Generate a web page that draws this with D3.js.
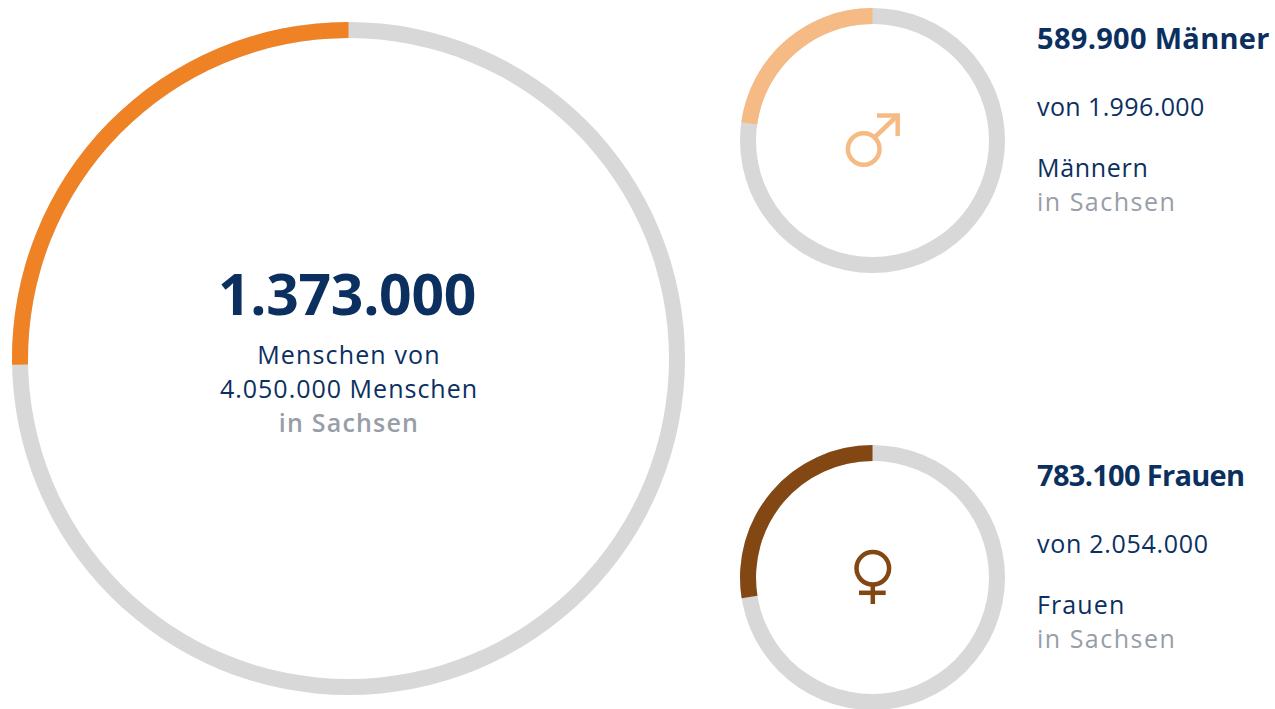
<!DOCTYPE html>
<html>
<head>
<meta charset="utf-8">
<script src="https://cdn.jsdelivr.net/npm/d3@7"></script>
<style>
html, body { margin: 0; padding: 0; background: #fff; }
svg { display: block; }
text { font-family: "Open Sans", "Noto Sans", sans-serif; }
</style>
</head>
<body>
<script>
// ---------- DATA ----------
var groups = ['gesamt', 'maenner', 'frauen']
// filled share of each ring
var shares = [0.253, 0.228, 0.275]
var colors = ['#ef8225', '#f6ba84', '#834713']
var centerX = [348.5, 872.5, 872.5]
var centerY = [358.5, 140.5, 577.5]
var radii = [336.5, 132.5, 132.5]
var widths = [16, 16, 16]

var width = 1275
var height = 709
var navy = '#0b3060'
var grey = '#979ea8'
var track = '#d8d8d8'

var svg = d3.select('body').append('svg')
	.attr('width', width)
	.attr('height', height)

var angle = d3.scaleLinear().domain([0, 1]).range([0, -2 * Math.PI])

// ---------- RINGS ----------
var rings = svg.selectAll('g.ring')
	.data(groups)
	.enter()
	.append('g')
	.attr('class', 'ring')
	.attr('transform', (d, i) => 'translate(' + centerX[i] + ',' + centerY[i] + ')')

rings.append('path')
	.attr('fill', track)
	.attr('d', (d, i) => d3.arc()({
		innerRadius: radii[i] - widths[i],
		outerRadius: radii[i],
		startAngle: 0,
		endAngle: angle(1)
	}))

rings.append('path')
	.attr('fill', (d, i) => colors[i])
	.attr('d', (d, i) => d3.arc()({
		innerRadius: radii[i] - widths[i],
		outerRadius: radii[i],
		startAngle: 0,
		endAngle: angle(shares[i])
	}))

// ---------- TEXT ----------
// ls = letter spacing, Fira Sans is not installed so Open Sans gets stretched to the same widths
var labels = [
	{ t: '1.373.000', x: 347, y: 315, s: 57, w: 700, f: navy, a: 'middle', ls: -0.3 },
	{ t: 'Menschen von', x: 349, y: 364, s: 25, w: 400, f: navy, a: 'middle', ls: 1.15 },
	{ t: '4.050.000 Menschen', x: 349, y: 398, s: 25, w: 400, f: navy, a: 'middle', ls: 1 },
	{ t: 'in Sachsen', x: 349, y: 432, s: 25, w: 600, f: grey, a: 'middle', ls: 1.2 },
	{ t: '589.900 Männer', x: 1037, y: 49, s: 29, w: 700, f: navy, a: 'start', ls: 0.3 },
	{ t: 'von 1.996.000', x: 1037, y: 116, s: 25, w: 400, f: navy, a: 'start', ls: 0.4 },
	{ t: 'Männern', x: 1037, y: 177, s: 25, w: 400, f: navy, a: 'start', ls: 0.7 },
	{ t: 'in Sachsen', x: 1037, y: 211, s: 25, w: 400, f: grey, a: 'start', ls: 1.5 },
	{ t: '783.100 Frauen', x: 1037, y: 486, s: 29, w: 700, f: navy, a: 'start', ls: -0.7 },
	{ t: 'von 2.054.000', x: 1037, y: 553, s: 25, w: 400, f: navy, a: 'start', ls: 0.7 },
	{ t: 'Frauen', x: 1037, y: 614, s: 25, w: 400, f: navy, a: 'start', ls: 1.1 },
	{ t: 'in Sachsen', x: 1037, y: 648, s: 25, w: 400, f: grey, a: 'start', ls: 1.5 }
]

svg.selectAll('text')
	.data(labels)
	.enter()
	.append('text')
	.text(d => d.t)
	.attr('x', d => d.x)
	.attr('y', d => d.y)
	.attr('font-size', d => d.s)
	.attr('font-weight', d => d.w)
	.attr('fill', d => d.f)
	.attr('text-anchor', d => d.a)
	.attr('letter-spacing', d => d.ls)

// ---------- SYMBOLS ----------
var male = svg.append('g').attr('fill', 'none').attr('stroke', colors[1]).attr('stroke-width', 4.5)
male.append('circle').attr('cx', 863.7).attr('cy', 149).attr('r', 15.8)
male.append('path').attr('d', 'M875,137 L897,116')
male.append('path').attr('d', 'M877,115.5 L897.7,115.5 L897.7,136')

var female = svg.append('g').attr('fill', 'none').attr('stroke', colors[2]).attr('stroke-width', 4.5)
female.append('circle').attr('cx', 872.8).attr('cy', 568.3).attr('r', 16.3)
female.append('path').attr('d', 'M872.8,586 L872.8,604')
female.append('path').attr('d', 'M859,592.8 L885.7,592.8')
</script>
</body>
</html>
